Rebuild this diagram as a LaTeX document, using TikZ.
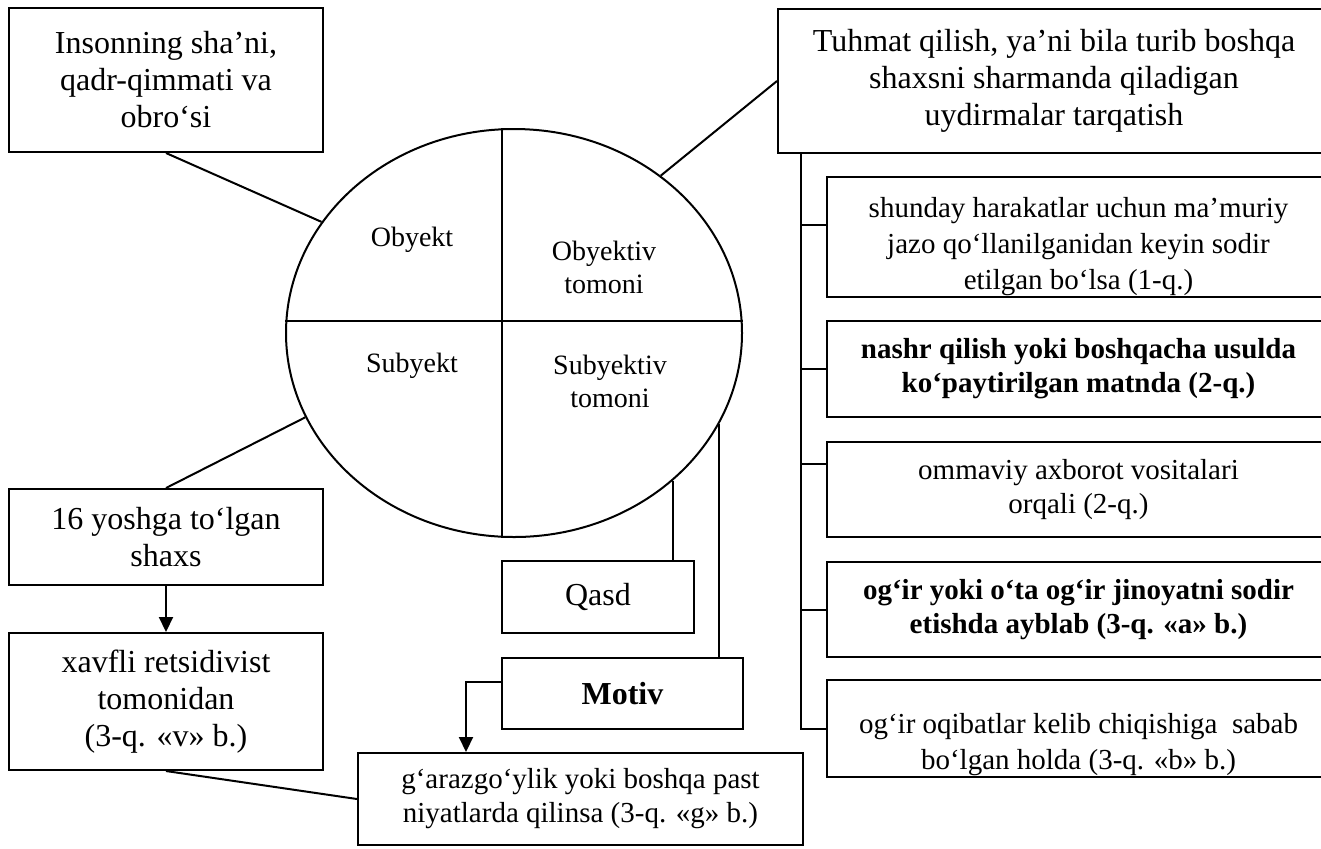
\documentclass[tikz,border=0pt]{standalone}
\usepackage{fontspec}
\setmainfont{Liberation Serif}
\usetikzlibrary{shapes.geometric, positioning, calc, arrows.meta}

\tikzset{
  box/.style={draw, line width=1pt, rectangle, align=center, inner sep=2pt, font=\fontsize{16}{18.5}\selectfont},
  bbox/.style={box, font=\fontsize{16}{18.5}\selectfont\bfseries},
  sbox/.style={box, font=\fontsize{14.5}{17}\selectfont},
  bsbox/.style={box, font=\fontsize{14.5}{17}\selectfont\bfseries},
  rtxt/.style={align=center, inner sep=0pt, font=\fontsize{14.5}{18}\selectfont},
  lbl/.style={align=center, font=\fontsize{14}{16.5}\selectfont},
  arr/.style={-{Triangle[width=7pt,length=7.5pt]}}
}

\begin{document}
\begin{tikzpicture}[x=0.5pt,y=-0.5pt,line width=1pt]
  \useasboundingbox (0,0) rectangle (1321,848);
  \clip (0,0) rectangle (1321,848);
  %ellipse with the four parts
  \node[ellipse, draw, inner sep=0pt, minimum width=228pt, minimum height=204pt] (elps) at (514,333) {};
  \draw ([xshift=-6pt]elps.north) -- ([xshift=-6pt]elps.south);
  \draw ([yshift=6pt]elps.west) -- ([yshift=6pt]elps.east);
  \node[lbl] (lobj) at (412,240) {Obyekt};
  \node[lbl] (lobjt) at (604,267) {Obyektiv\\tomoni};
  \node[lbl] (lsub) at (412,366) {Subyekt};
  \node[lbl] (lsubt) at (610,381) {Subyektiv\\tomoni};
  %left column
  \node[box, minimum width=157pt, minimum height=72pt] (obj) at (166,80) {Insonning sha’ni,\\qadr-qimmati va\\obro‘si};
  \node[box, minimum width=157pt, minimum height=48pt] (yosh) at (166,537) {16 yoshga to‘lgan\\shaxs};
  \node[box, minimum width=157pt, minimum height=68.5pt] (xavfli) at (166,701.5) {xavfli retsidivist\\tomonidan\\(3-q. «v» b.)};
  %middle
  \node[box, minimum width=96pt, minimum height=36pt] (qasd) at (598,597) {Qasd};
  \node[bbox, minimum width=120.5pt, minimum height=35.5pt] (motiv) at (622.5,693.5) {Motiv};
  \node[sbox, minimum width=222.5pt, minimum height=46pt] (garaz) at (580.5,799) {g‘arazgo‘ylik yoki boshqa past\\niyatlarda qilinsa (3-q. «g» b.)};
  %right column
  \node[box, minimum width=276pt, minimum height=72pt] (tuhmat) at (1054,81) {Tuhmat qilish, ya’ni bila turib boshqa\\shaxsni sharmanda qiladigan\\uydirmalar tarqatish};
  \node[sbox, minimum width=251.5pt, minimum height=60pt,
    label={[rtxt, name=t1, yshift=-4.75pt]center:shunday harakatlar uchun ma’muriy\\jazo qo‘llanilganidan keyin sodir\\etilgan bo‘lsa (1-q.)}] (b1) at (1078.5,237) {};
  \node[bsbox, minimum width=251.5pt, minimum height=48pt] (b2) at (1078.5,369) {nashr qilish yoki boshqacha usulda\\ko‘paytirilgan matnda (2-q.)};
  \node[sbox, minimum width=251.5pt, minimum height=47.5pt] (b3) at (1078.5,489.5) {ommaviy axborot vositalari\\orqali (2-q.)};
  \node[bsbox, minimum width=251.5pt, minimum height=47.5pt] (b4) at (1078.5,609.5) {og‘ir yoki o‘ta og‘ir jinoyatni sodir\\etishda ayblab (3-q. «a» b.)};
  \node[sbox, minimum width=251.5pt, minimum height=48.5pt,
    label={[rtxt, name=t5, yshift=-8pt]center:og‘ir oqibatlar kelib chiqishiga\ \ sabab\\bo‘lgan holda (3-q. «b» b.)}] (b5) at (1078.5,728.5) {};
  %connectors to the ellipse
  \draw (obj.south) -- (elps.150.7);
  \draw (elps.47) -- (tuhmat.west);
  \draw (elps.202.8) -- (yosh.north);
  \draw (elps.-43.3) -- (elps.-43.3 |- qasd.north);
  \draw (elps.-24) -- (elps.-24 |- motiv.north);
  %arrows
  \draw[arr] (yosh) -- (xavfli);
  \draw (xavfli.south) -- (garaz.west);
  \draw[arr] ([yshift=6pt]motiv.west) -| ([xshift=54.5pt]garaz.north west);
  %bracket on the right
  \coordinate (brk) at ([xshift=12pt]tuhmat.south west);
  \coordinate (s1) at ([yshift=6pt]b1.west);
  \coordinate (s3) at ([yshift=12.75pt]b3.west);
  \draw (brk) |- (b5.west);
  \foreach \p in {s1, b2.west, s3, b4.west}
    \draw (\p) -- (brk |- \p);
\end{tikzpicture}
\end{document}
